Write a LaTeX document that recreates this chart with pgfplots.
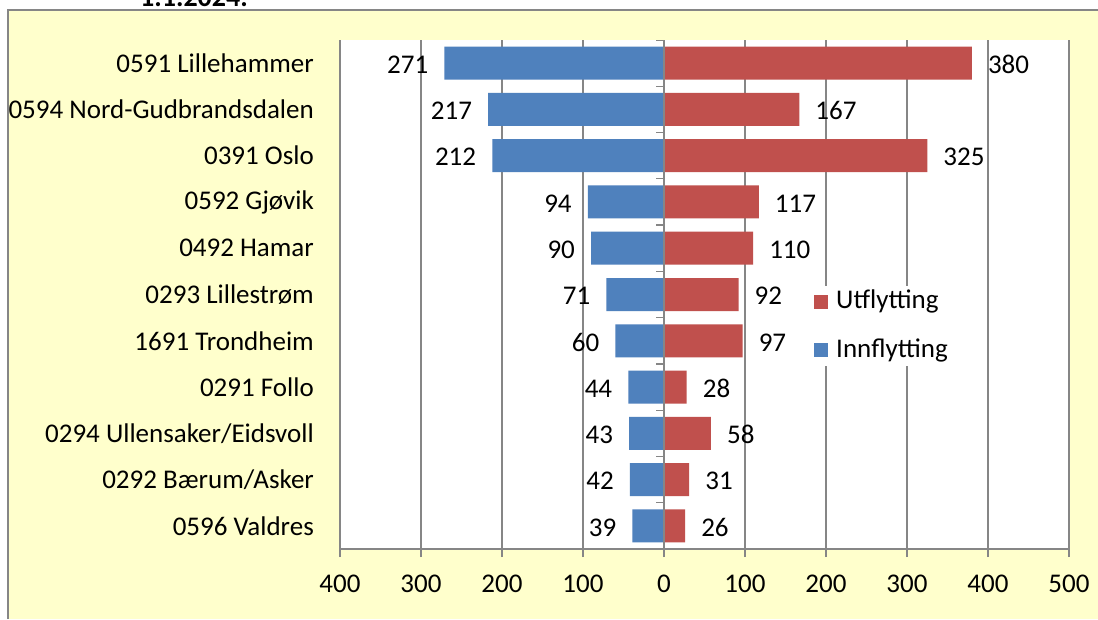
\documentclass[border=0pt]{standalone}
\usepackage{pgfplots}
\pgfplotsset{compat=1.18}
\usepackage{fontspec}
\setmainfont{Carlito}
\definecolor{cream}{RGB}{255,255,204}
\definecolor{bblue}{RGB}{79,129,189}
\definecolor{rred}{RGB}{192,80,77}
\definecolor{gridgray}{RGB}{134,134,134}
\begin{document}
\fontsize{27}{32}\selectfont
\begin{tikzpicture}[x=1pt,y=1pt]
\useasboundingbox (0,0) rectangle (1098,619);
\fill[cream] (8,0) rectangle (1098,609);
\draw[gridgray, line width=1.2pt] (8,0) -- (8,609) -- (1098,609);
\begin{scope}
\clip (0,610) rectangle (1098,619);
\node[anchor=base west, inner sep=0pt, font=\fontsize{28}{30}\selectfont\bfseries] at (140,612) {1.1.2024.};
\end{scope}
\begin{axis}[
  at={(340pt,70pt)}, anchor=south west,
  scale only axis, width=729pt, height=509pt,
  xmin=-400, xmax=500, ymin=-0.5, ymax=10.5, y dir=reverse,
  xbar, bar width=33pt, bar shift=0pt,
  xtick={-400,-300,...,500},
  xticklabel={\pgfmathparse{abs(\tick)}\pgfmathprintnumber{\pgfmathresult}},
  ytick={0,...,10},
  yticklabels={0591 Lillehammer,0594 Nord-Gudbrandsdalen,0391 Oslo,0592 Gjøvik,0492 Hamar,0293 Lillestrøm,1691 Trondheim,0291 Follo,0294 Ullensaker/Eidsvoll,0292 Bærum/Asker,0596 Valdres},
  yticklabel style={anchor=east, inner sep=0pt, xshift=-18pt},
  xticklabel style={inner sep=0pt, anchor=north, yshift=-18pt},
  xmajorgrids, major grid style={gridgray, line width=1.2pt},
  axis x line*=bottom, axis y line*=left,
  y axis line style={draw=none}, ytick style={draw=none},
  x axis line style={gridgray, line width=1.2pt, -},
  xtick style={gridgray, line width=1.2pt},
  tick align=outside, major tick length=8pt,
  axis background/.style={fill=white},
  /pgf/number format/assume math mode=true,
  point meta=explicit symbolic,
  nodes near coords={\pgfplotspointmeta},
  legend style={at={(0.6475,0.5167)}, anchor=north west, draw=none, fill=white,
    row sep=22pt, inner sep=2pt, font=\fontsize{27}{32}\selectfont,
    /tikz/every odd column/.append style={column sep=6pt}},
  legend cell align=left,
  legend image code/.code={\fill[#1, draw=none] (0pt,-7pt) rectangle (14pt,7pt);},
]
\addplot[fill=rred, draw=none, nodes near coords style={anchor=west, inner sep=0pt, xshift=16pt, yshift=-1.5pt, text=black}]
coordinates {
(380,0) [380]
(167,1) [167]
(325,2) [325]
(117,3) [117]
(110,4) [110]
(92,5) [92]
(97,6) [97]
(28,7) [28]
(58,8) [58]
(31,9) [31]
(26,10) [26]
};
\addplot[fill=bblue, draw=none, nodes near coords style={anchor=east, inner sep=0pt, xshift=-16pt, yshift=-1.5pt, text=black}]
coordinates {
(-271,0) [271]
(-217,1) [217]
(-212,2) [212]
(-94,3) [94]
(-90,4) [90]
(-71,5) [71]
(-60,6) [60]
(-44,7) [44]
(-43,8) [43]
(-42,9) [42]
(-39,10) [39]
};
\legend{Utflytting,Innflytting}
\draw[gridgray, line width=1.2pt] (axis cs:0,-0.5) -- (axis cs:0,10.5);
\pgfplotsinvokeforeach{-0.5,0.5,...,10.5}{\draw[gridgray, line width=1.2pt] (axis cs:0,#1) -- ++(-8pt,0pt);}
\end{axis}
\end{tikzpicture}
\end{document}
